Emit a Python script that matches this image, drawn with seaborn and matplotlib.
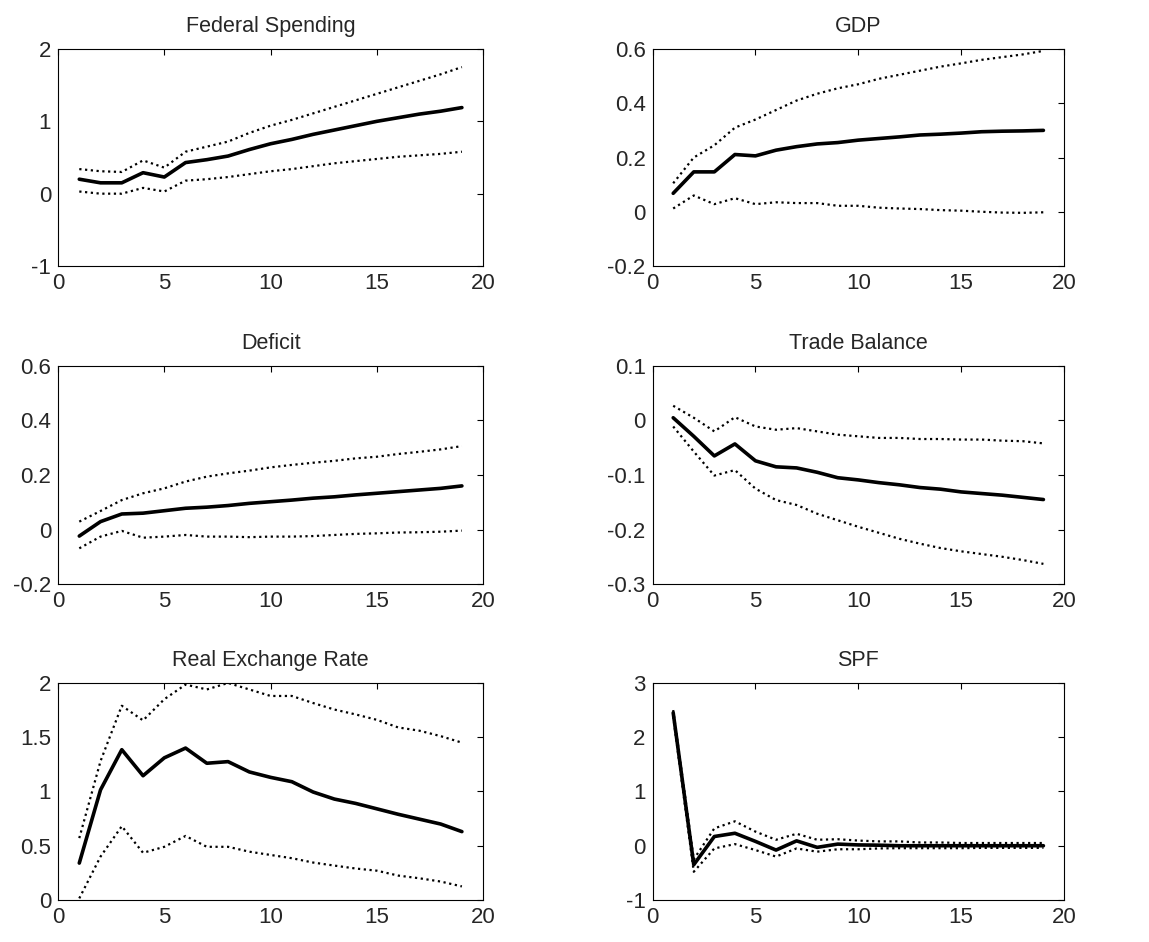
import numpy as np
import pandas as pd
import matplotlib
matplotlib.use("Agg")
import matplotlib.pyplot as plt
import seaborn as sns

horizon = list(range(1, 20))

titles = ["Federal Spending", "GDP", "Deficit", "Trade Balance", "Real Exchange Rate", "SPF"]

fed_mid = [0.20, 0.15, 0.15, 0.29, 0.23, 0.43, 0.47, 0.52, 0.61, 0.69, 0.75, 0.82, 0.88, 0.94, 1.00, 1.05, 1.10, 1.14, 1.19]
fed_up = [0.34, 0.31, 0.30, 0.46, 0.36, 0.58, 0.65, 0.72, 0.84, 0.94, 1.02, 1.11, 1.20, 1.29, 1.38, 1.47, 1.56, 1.65, 1.75]
fed_lo = [0.03, 0.00, 0.00, 0.08, 0.03, 0.18, 0.20, 0.23, 0.27, 0.31, 0.34, 0.38, 0.42, 0.45, 0.48, 0.51, 0.53, 0.55, 0.58]

gdp_mid = [0.068, 0.147, 0.147, 0.211, 0.206, 0.227, 0.24, 0.25, 0.255, 0.264, 0.27, 0.276, 0.283, 0.286, 0.29, 0.295, 0.297, 0.298, 0.30]
gdp_up = [0.105, 0.20, 0.245, 0.31, 0.34, 0.375, 0.41, 0.435, 0.455, 0.47, 0.49, 0.505, 0.52, 0.535, 0.547, 0.56, 0.57, 0.58, 0.593]
gdp_lo = [0.012, 0.06, 0.028, 0.05, 0.028, 0.035, 0.032, 0.032, 0.022, 0.022, 0.015, 0.012, 0.01, 0.006, 0.004, 0.0, -0.003, -0.004, -0.002]

def_mid = [-0.024, 0.029, 0.057, 0.06, 0.069, 0.078, 0.082, 0.088, 0.096, 0.102, 0.108, 0.115, 0.12, 0.127, 0.133, 0.139, 0.145, 0.151, 0.16]
def_up = [0.029, 0.068, 0.108, 0.133, 0.151, 0.176, 0.194, 0.206, 0.216, 0.228, 0.237, 0.245, 0.252, 0.261, 0.267, 0.277, 0.285, 0.294, 0.306]
def_lo = [-0.069, -0.026, -0.005, -0.03, -0.026, -0.02, -0.026, -0.026, -0.028, -0.026, -0.026, -0.024, -0.02, -0.016, -0.014, -0.011, -0.01, -0.008, -0.004]

tb_mid = [0.005, -0.029, -0.065, -0.043, -0.074, -0.085, -0.087, -0.095, -0.105, -0.109, -0.114, -0.118, -0.123, -0.126, -0.131, -0.134, -0.137, -0.141, -0.145]
tb_up = [0.027, 0.005, -0.02, 0.006, -0.011, -0.017, -0.014, -0.02, -0.026, -0.029, -0.032, -0.032, -0.034, -0.034, -0.035, -0.035, -0.037, -0.038, -0.042]
tb_lo = [-0.011, -0.057, -0.101, -0.091, -0.125, -0.146, -0.155, -0.171, -0.183, -0.195, -0.206, -0.217, -0.226, -0.234, -0.24, -0.245, -0.25, -0.256, -0.263]

rer_mid = [0.34, 1.015, 1.385, 1.145, 1.31, 1.40, 1.26, 1.275, 1.18, 1.13, 1.09, 0.995, 0.93, 0.89, 0.84, 0.79, 0.745, 0.70, 0.63]
rer_up = [0.57, 1.28, 1.79, 1.655, 1.85, 1.985, 1.94, 2.0, 1.94, 1.88, 1.88, 1.815, 1.755, 1.71, 1.66, 1.59, 1.56, 1.51, 1.45]
rer_lo = [0.015, 0.40, 0.68, 0.435, 0.49, 0.59, 0.49, 0.49, 0.445, 0.415, 0.385, 0.345, 0.317, 0.29, 0.27, 0.225, 0.20, 0.17, 0.125]

spf_mid = [2.45, -0.35, 0.17, 0.23, 0.08, -0.08, 0.09, -0.03, 0.03, 0.015, 0.01, 0.0, 0.0, 0.0, 0.0, 0.0, 0.0, 0.0, 0.0]
spf_up = [2.5, -0.25, 0.32, 0.45, 0.26, 0.11, 0.22, 0.11, 0.12, 0.095, 0.08, 0.08, 0.06, 0.06, 0.05, 0.05, 0.05, 0.05, 0.05]
spf_lo = [2.38, -0.48, -0.05, 0.03, -0.08, -0.2, -0.05, -0.11, -0.065, -0.065, -0.05, -0.045, -0.045, -0.045, -0.045, -0.04, -0.04, -0.04, -0.04]

ylims = [(-1, 2), (-0.2, 0.6), (-0.2, 0.6), (-0.3, 0.1), (0, 2), (-1, 3)]
yticks = [[-1, 0, 1, 2], [-0.2, 0, 0.2, 0.4, 0.6], [-0.2, 0, 0.2, 0.4, 0.6],
          [-0.3, -0.2, -0.1, 0, 0.1], [0, 0.5, 1, 1.5, 2], [-1, 0, 1, 2, 3]]
ytick_labels = [["-1", "0", "1", "2"], ["-0.2", "0", "0.2", "0.4", "0.6"], ["-0.2", "0", "0.2", "0.4", "0.6"],
                ["-0.3", "-0.2", "-0.1", "0", "0.1"], ["0", "0.5", "1", "1.5", "2"], ["-1", "0", "1", "2", "3"]]
xticks = [0, 5, 10, 15, 20]

series = [(fed_mid, fed_up, fed_lo), (gdp_mid, gdp_up, gdp_lo), (def_mid, def_up, def_lo),
          (tb_mid, tb_up, tb_lo), (rer_mid, rer_up, rer_lo), (spf_mid, spf_up, spf_lo)]

sns.set_style("white")
plt.rcParams["font.family"] = ["Liberation Sans", "DejaVu Sans"]
plt.rcParams["xtick.direction"] = "in"
plt.rcParams["ytick.direction"] = "in"

fig = plt.figure(figsize=(11.49, 9.42), dpi=100)

positions = [
    (0.0505, 0.7176, 0.370, 0.2304), (0.568, 0.7176, 0.358, 0.2304),
    (0.0505, 0.380, 0.370, 0.2315), (0.568, 0.380, 0.358, 0.2315),
    (0.0505, 0.0446, 0.370, 0.2304), (0.568, 0.0446, 0.358, 0.2304),
]

for i, (title, (mid, up, lo)) in enumerate(zip(titles, series)):
    ax = fig.add_axes(positions[i])
    df = pd.DataFrame({"h": horizon, "mid": mid, "up": up, "lo": lo})
    sns.lineplot(data=df, x="h", y="up", ax=ax, color="black", lw=1.6, linestyle=(0, (1, 1.6)))
    sns.lineplot(data=df, x="h", y="lo", ax=ax, color="black", lw=1.6, linestyle=(0, (1, 1.6)))
    sns.lineplot(data=df, x="h", y="mid", ax=ax, color="black", lw=2.6)
    ax.set_xlim(0, 20)
    ax.set_ylim(*ylims[i])
    ax.set_xticks(xticks)
    ax.set_xticklabels([str(t) for t in xticks])
    ax.set_yticks(yticks[i])
    ax.set_yticklabels(ytick_labels[i])
    ax.set_xlabel("")
    ax.set_ylabel("")
    ax.set_title(title, fontsize=15.5, pad=12)
    ax.tick_params(axis="both", which="both", labelsize=16, length=4, width=0.8,
                   top=True, right=True, pad=5, color="black")
    for s in ax.spines.values():
        s.set_color("black")
        s.set_linewidth(0.8)

fig.savefig("out.png", dpi=100, facecolor="white")
